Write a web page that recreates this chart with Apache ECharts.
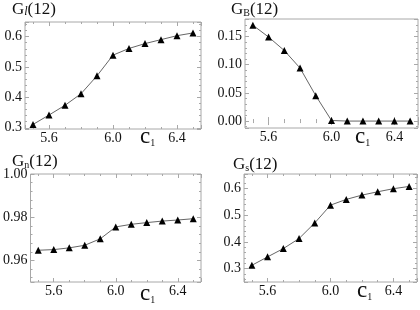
<!DOCTYPE html>
<html><head><meta charset="utf-8">
<script src="https://cdn.jsdelivr.net/npm/echarts@6/dist/echarts.min.js"></script>
<style>html,body{margin:0;padding:0;background:#fff}#c{width:420px;height:310px}</style>
</head><body><div id="c"></div>
<script>
const c1 = [5.5, 5.6, 5.7, 5.8, 5.9, 6.0, 6.1, 6.2, 6.3, 6.4, 6.5];
const gl = [0.311, 0.342, 0.374, 0.412, 0.471, 0.539, 0.561, 0.577, 0.590, 0.603, 0.612];
const gb = [0.170, 0.149, 0.125, 0.094, 0.045, 0.001, 0, 0, 0, 0, 0];
const gn = [0.9647, 0.9650, 0.9658, 0.9670, 0.9700, 0.9755, 0.9767, 0.9775, 0.9782, 0.9787, 0.9793];
const gs = [0.3125, 0.344, 0.375, 0.4125, 0.471, 0.5375, 0.559, 0.575, 0.5875, 0.599, 0.6075];
const xTicks = [5.6, 6.0, 6.4];
const ylTicks = [0.3, 0.4, 0.5, 0.6];
const ybTicks = [0.00, 0.05, 0.10, 0.15];
const ynTicks = [0.96, 0.98, 1.00];
const ysTicks = [0.3, 0.4, 0.5, 0.6];

const FONT = 'Liberation Serif';
const FRAME = '#a8a8a8';

const panels = [
  {y: gl, yt: ylTicks, dec: 1, ymin: 0.296, ymax: 0.648, yi: 0.1, grid: {left: 25, top: 22, width: 176, height: 107}},
  {y: gb, yt: ybTicks, dec: 2, ymin: -0.0123, ymax: 0.181, yi: 0.05, grid: {left: 245, top: 19, width: 173, height: 109}},
  {y: gn, yt: ynTicks, dec: 2, ymin: 0.95, ymax: 1.0, yi: 0.02, grid: {left: 25, top: 174, width: 176, height: 108}},
  {y: gs, yt: ysTicks, dec: 1, ymin: 0.25, ymax: 0.654, yi: 0.1, grid: {left: 244, top: 174, width: 173, height: 108}}
];

function near(v, arr) { return arr.some(t => Math.abs(t - v) < 1e-6); }

const grids = [], xAxes = [], yAxes = [], series = [];
panels.forEach((p, i) => {
  grids.push(Object.assign({containLabel: false, show: true, borderColor: FRAME, borderWidth: 1}, p.grid));
  const xBase = {
    type: 'value', gridIndex: i, min: 5.45, max: 6.55,
    minInterval: 0.4, maxInterval: 0.4,
    splitLine: {show: false},
    axisLine: {show: false},
    axisTick: {show: true, inside: true, length: 4, lineStyle: {color: FRAME}},
    minorTick: {show: true, splitNumber: 4, length: 2, lineStyle: {color: FRAME}},
    minorSplitLine: {show: false}
  };
  xAxes.push(Object.assign({}, xBase, {
    position: 'bottom',
    axisLabel: {show: true, margin: 2, color: '#111', fontFamily: FONT, fontSize: 14,
      showMinLabel: false, showMaxLabel: false,
      formatter: v => near(v, xTicks) ? v.toFixed(1) : ''}
  }));
  xAxes.push(Object.assign({}, xBase, {position: 'top', axisLabel: {show: false}}));
  const yBase = {
    type: 'value', gridIndex: i, min: p.ymin, max: p.ymax,
    minInterval: p.yi, maxInterval: p.yi,
    splitLine: {show: false},
    axisLine: {show: false},
    axisTick: {show: true, inside: true, length: 4, lineStyle: {color: FRAME}},
    minorTick: {show: true, splitNumber: 5, length: 2, lineStyle: {color: FRAME}},
    minorSplitLine: {show: false}
  };
  yAxes.push(Object.assign({}, yBase, {
    position: 'left',
    axisLabel: {show: true, margin: 3, color: '#111', fontFamily: FONT, fontSize: 14,
      showMinLabel: true, showMaxLabel: true,
      formatter: v => near(v, p.yt) ? v.toFixed(p.dec) : ''}
  }));
  yAxes.push(Object.assign({}, yBase, {position: 'right', axisLabel: {show: false}}));
  series.push({
    type: 'line', xAxisIndex: 2 * i, yAxisIndex: 2 * i,
    data: c1.map((x, k) => [x, p.y[k]]),
    symbol: 'triangle', symbolSize: 7,
    itemStyle: {color: '#000'},
    lineStyle: {color: '#666', width: 1},
    animation: false, silent: true
  });
});

function title(x, y, main, sub, subStyle) {
  return {
    type: 'text', left: x, top: y,
    style: {
      text: '{g|' + main + '}{s|' + sub + '}{g|(12)}',
      rich: {
        g: {fontFamily: FONT, fontSize: 17, fill: '#111', verticalAlign: 'bottom'},
        s: Object.assign({fontFamily: FONT, fontSize: 10, fill: '#111', verticalAlign: 'bottom'}, subStyle || {})
      }
    }
  };
}
function cname(x, y) {
  return {
    type: 'text', left: x, top: y,
    style: {
      text: '{c|c}{s|1}',
      rich: {
        c: {fontFamily: FONT, fontSize: 23, fill: '#111', verticalAlign: 'bottom'},
        s: {fontFamily: FONT, fontSize: 10, fill: '#111', verticalAlign: 'bottom'}
      }
    }
  };
}

const chart = echarts.init(document.getElementById('c'), null, {renderer: 'canvas'});
chart.setOption({
  backgroundColor: '#fff',
  animation: false,
  grid: grids, xAxis: xAxes, yAxis: yAxes, series: series,
  graphic: [
    title(12, 1, 'G', 'l', {fontStyle: 'italic', fontSize: 12}),
    title(231, 1, 'G', 'B'),
    title(12, 153, 'G', 'n'),
    title(233, 156, 'G', 's'),
    cname(140, 125),
    cname(355, 125),
    cname(140, 282),
    cname(357, 279)
  ]
});
</script></body></html>
